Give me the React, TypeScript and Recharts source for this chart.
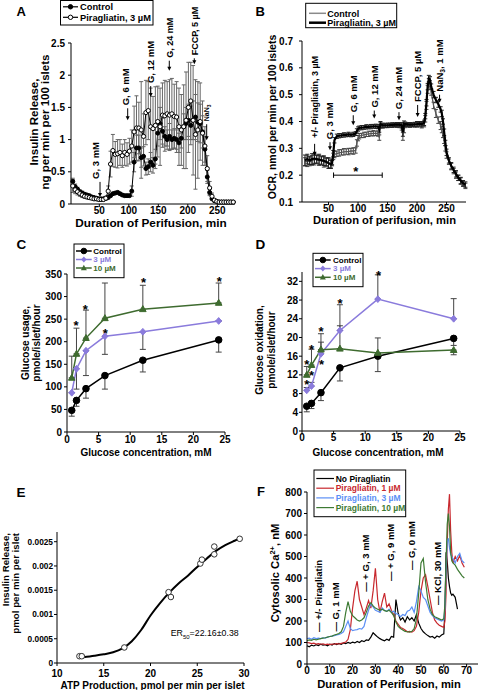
import React from 'react';
import { ComposedChart, Line, XAxis, YAxis, ErrorBar, ReferenceDot, ReferenceLine } from 'recharts';

const FONT = '"Liberation Sans", Arial, Helvetica, sans-serif';

// ---------------- Panel A data ----------------
const A_TIME = [5, 9, 13, 17, 21, 25, 29, 33, 37, 41, 45, 49, 53, 57, 61, 65, 69, 73, 77, 81, 85, 89, 93, 97, 101, 105, 109, 113, 117, 121, 125, 129, 133, 137, 141, 145, 149, 153, 157, 161, 165, 169, 173, 177, 181, 185, 189, 193, 197, 201, 205, 209, 213, 217, 221, 225, 229, 233, 237, 241, 245, 249, 253, 257, 261, 265, 269, 273, 277];
const A_CONTROL = [0.35, 0.27, 0.23, 0.19, 0.17, 0.15, 0.14, 0.13, 0.11, 0.1, 0.09, 0.08, 0.08, 0.08, 0.09, 0.1, 0.13, 0.16, 0.17, 0.18, 0.16, 0.14, 0.13, 0.13, 0.13, 0.2, 0.65, 0.87, 0.87, 0.72, 0.74, 0.55, 0.58, 0.65, 0.6, 0.7, 1.1, 1.25, 1.13, 1.05, 1.0, 1.05, 1.0, 1.02, 1.0, 0.95, 1.02, 1.2, 1.25, 1.3, 1.22, 1.3, 1.35, 1.27, 1.25, 1.12, 0.85, 0.42, 0.18, 0.08, 0.05, 0.04, 0.03, 0.03, 0.03, 0.03, 0.03, 0.03, 0.03];
const A_PIRAG = [0.28, 0.22, 0.19, 0.16, 0.14, 0.12, 0.11, 0.1, 0.09, 0.08, 0.08, 0.07, 0.07, 0.07, 0.09, 0.2, 0.62, 0.83, 0.77, 0.78, 0.8, 0.75, 0.8, 0.77, 0.82, 0.9, 1.12, 1.18, 1.18, 1.15, 1.05, 1.42, 1.45, 1.2, 1.17, 1.22, 1.28, 1.2, 1.38, 1.37, 1.4, 1.38, 1.4, 1.36, 1.35, 1.2, 1.15, 1.2, 1.3, 1.5, 1.6, 1.3, 1.08, 1.15, 1.28, 1.1, 0.9, 0.55, 0.25, 0.12, 0.06, 0.04, 0.03, 0.03, 0.03, 0.03, 0.03, 0.03, 0.03];
const A_CONTROL_ERR = [0.05, 0.04, 0.03, 0.03, 0.03, 0.03, 0.02, 0.02, 0.02, 0.02, 0.02, 0.02, 0.02, 0.02, 0.02, 0.02, 0.02, 0.02, 0.02, 0.02, 0.02, 0.02, 0.02, 0.02, 0.02, 0.08, 0.15, 0.2, 0.2, 0.15, 0.15, 0.1, 0.12, 0.15, 0.12, 0.15, 0.2, 0.25, 0.2, 0.15, 0.15, 0.2, 0.15, 0.15, 0.15, 0.15, 0.15, 0.2, 0.25, 0.25, 0.3, 0.3, 0.35, 0.3, 0.3, 0.25, 0.2, 0.1, 0.05, 0.01, 0.01, 0.01, 0.01, 0.01, 0.01, 0.01, 0.01, 0.01, 0.01];
const A_PIRAG_ERR = [0.1, 0.06, 0.05, 0.04, 0.04, 0.03, 0.03, 0.03, 0.02, 0.02, 0.02, 0.02, 0.02, 0.02, 0.03, 0.08, 0.2, 0.25, 0.2, 0.22, 0.2, 0.18, 0.2, 0.18, 0.2, 0.25, 0.4, 0.5, 0.4, 0.75, 0.35, 0.5, 0.45, 0.6, 0.5, 0.6, 0.55, 0.6, 0.5, 0.55, 0.5, 0.55, 0.55, 0.5, 0.55, 0.6, 0.55, 0.65, 0.75, 0.7, 0.6, 0.85, 0.85, 0.75, 0.6, 0.5, 0.3, 0.2, 0.1, 0.05, 0.02, 0.01, 0.01, 0.01, 0.01, 0.01, 0.01, 0.01, 0.01];
const A_XTICKS = [50, 100, 150, 200, 250];
const A_YTICKS = [0, 0.5, 1, 1.5, 2, 2.5];

// ---------------- Panel B data ----------------
const B_TIME = [10, 14, 18, 22, 26, 30, 34, 38, 42, 46, 50, 54, 56, 58, 60, 64, 68, 72, 76, 80, 84, 88, 92, 96, 98, 100, 102, 106, 110, 114, 118, 122, 126, 130, 134, 136, 138, 142, 146, 150, 154, 158, 162, 166, 170, 174, 176, 178, 180, 184, 188, 192, 196, 200, 204, 208, 212, 214, 216, 218, 220, 222, 224, 228, 232, 236, 240, 242, 244, 246, 248, 250, 254, 258, 262, 266, 270, 274, 278, 282];
const B_PIRAG = [0.255, 0.26, 0.255, 0.26, 0.262, 0.26, 0.258, 0.256, 0.254, 0.25, 0.245, 0.24, 0.245, 0.28, 0.33, 0.345, 0.347, 0.348, 0.35, 0.35, 0.352, 0.35, 0.352, 0.355, 0.365, 0.372, 0.376, 0.377, 0.378, 0.38, 0.38, 0.381, 0.382, 0.382, 0.381, 0.37, 0.39, 0.386, 0.386, 0.386, 0.387, 0.387, 0.388, 0.388, 0.388, 0.386, 0.36, 0.392, 0.39, 0.389, 0.388, 0.388, 0.389, 0.39, 0.392, 0.39, 0.395, 0.42, 0.47, 0.53, 0.56, 0.555, 0.53, 0.5, 0.48, 0.465, 0.445, 0.43, 0.4, 0.36, 0.32, 0.285, 0.255, 0.235, 0.22, 0.205, 0.19, 0.18, 0.17, 0.165];
const B_CONTROL = [0.25, 0.252, 0.25, 0.255, 0.258, 0.258, 0.255, 0.253, 0.25, 0.248, 0.245, 0.242, 0.25, 0.27, 0.277, 0.28, 0.283, 0.285, 0.287, 0.288, 0.288, 0.29, 0.29, 0.292, 0.32, 0.338, 0.345, 0.348, 0.35, 0.352, 0.354, 0.355, 0.356, 0.356, 0.355, 0.34, 0.385, 0.383, 0.384, 0.385, 0.385, 0.386, 0.386, 0.386, 0.385, 0.38, 0.345, 0.37, 0.385, 0.386, 0.386, 0.387, 0.387, 0.388, 0.388, 0.386, 0.39, 0.41, 0.46, 0.52, 0.545, 0.54, 0.51, 0.46, 0.43, 0.405, 0.385, 0.37, 0.35, 0.33, 0.3, 0.275, 0.25, 0.232, 0.215, 0.2, 0.19, 0.178, 0.168, 0.16];
const B_PIRAG_ERR = [0.02, 0.018, 0.015, 0.02, 0.018, 0.015, 0.02, 0.015, 0.018, 0.015, 0.02, 0.015, 0.01, 0.012, 0.01, 0.008, 0.008, 0.007, 0.008, 0.007, 0.008, 0.007, 0.008, 0.007, 0.008, 0.008, 0.007, 0.008, 0.007, 0.008, 0.007, 0.008, 0.007, 0.008, 0.008, 0.01, 0.01, 0.008, 0.007, 0.008, 0.007, 0.008, 0.007, 0.008, 0.008, 0.01, 0.015, 0.01, 0.008, 0.007, 0.008, 0.007, 0.008, 0.01, 0.008, 0.01, 0.01, 0.01, 0.012, 0.012, 0.012, 0.012, 0.01, 0.012, 0.01, 0.012, 0.01, 0.012, 0.01, 0.012, 0.01, 0.012, 0.01, 0.012, 0.01, 0.012, 0.01, 0.012, 0.01, 0.01];
const B_CONTROL_ERR = [0.015, 0.02, 0.015, 0.018, 0.02, 0.015, 0.018, 0.015, 0.02, 0.015, 0.018, 0.015, 0.01, 0.012, 0.012, 0.01, 0.012, 0.01, 0.012, 0.01, 0.012, 0.01, 0.012, 0.01, 0.012, 0.01, 0.01, 0.008, 0.01, 0.008, 0.01, 0.008, 0.01, 0.008, 0.01, 0.01, 0.01, 0.008, 0.007, 0.008, 0.007, 0.008, 0.007, 0.008, 0.008, 0.012, 0.015, 0.012, 0.008, 0.007, 0.008, 0.007, 0.008, 0.008, 0.008, 0.01, 0.01, 0.012, 0.015, 0.015, 0.015, 0.012, 0.012, 0.012, 0.015, 0.012, 0.015, 0.012, 0.01, 0.012, 0.01, 0.012, 0.01, 0.012, 0.01, 0.012, 0.01, 0.012, 0.01, 0.01];
const B_XTICKS = [50, 100, 150, 200, 250];
const B_YTICKS = [0.1, 0.2, 0.3, 0.4, 0.5, 0.6, 0.7];

// ---------------- Panel C / D data ----------------
const GLUCOSE = [0.75, 1.5, 3, 6, 12, 24];
const C_CONTROL = [48, 70, 96, 125, 159, 204];
const C_3UM = [87, 140, 180, 212, 222, 246];
const C_10UM = [120, 173, 208, 252, 272, 286];
const C_CONTROL_ERR_DOWN = [13, 13, 21, 30, 26, 27];
const C_3UM_ERR_DOWN = [0, 45, 55, 40, 39, 0];
const C_10UM_ERR_UP = [48, 57, 62, 78, 53, 44];
const C_XTICKS = [0, 5, 10, 15, 20, 25];
const C_YTICKS = [0, 50, 100, 150, 200, 250, 300, 350];
const C_STARS = [[1.42, 243], [2.9, 279], [6.06, 224], [12.1, 337], [24.1, 340]];

const D_CONTROL = [5.3, 5.9, 8.2, 13.5, 16.0, 19.8];
const D_3UM = [8.7, 9.6, 16.5, 21.5, 28.2, 24.0];
const D_10UM = [12.0, 14.1, 17.4, 17.6, 16.7, 17.3];
const D_CONTROL_ERR = [[1.2, 0], [1.1, 0], [1.7, 0], [2.8, 0], [3.3, 3.9], [1.5, 0]];
const D_3UM_ERR = [[0, 0.6], [0, 0.8], [0, 2.5], [0, 5.5], [0, 5.2], [0, 4.3]];
const D_10UM_ERR = [[0, 1.8], [0, 3.4], [0, 3.4], [0, 4.9], [0, 0], [1.0, 0]];
const D_YTICKS = [0, 4, 8, 12, 16, 20, 24, 28, 32];
const D_STARS = [[0.75, 14.8], [0.75, 10.5], [1.5, 18.0], [1.5, 12.6], [3.0, 22.0], [3.1, 14.8], [6.0, 27.9], [12.1, 33.9]];

// ---------------- Panel E data ----------------
const E_ATP = [12.4, 12.65, 17.2, 21.93, 22.18, 25.33, 25.5, 26.82, 26.82, 29.54];
const E_INSULIN = [0.00014, 0.00014, 0.00032, 0.00146, 0.00136, 0.00205, 0.00213, 0.0024, 0.00224, 0.00256];
const E_FIT_X = [12.8, 14, 15, 16, 17, 18, 19, 20, 21, 22, 23, 24, 25, 26, 27, 28, 29, 29.6];
const E_FIT_Y = [0.00012, 0.00015, 0.00018, 0.00022, 0.0003, 0.00045, 0.00068, 0.00098, 0.00123, 0.00145, 0.00164, 0.0018, 0.00198, 0.00215, 0.00231, 0.00243, 0.00252, 0.00257];
const E_XTICKS = [10, 15, 20, 25, 30];
const E_YTICKS = [0, 0.0005, 0.001, 0.0015, 0.002, 0.0025];

// ---------------- Panel F data ----------------
const F_TIME = [0, 1, 2, 3, 4, 5, 6, 7, 8, 9, 10, 11, 12, 13, 14, 15, 16, 17, 18, 19, 20, 21, 22, 23, 24, 25, 26, 27, 28, 29, 30, 31, 32, 33, 34, 35, 36, 37, 38, 39, 40, 41, 42, 43, 44, 45, 46, 47, 48, 49, 50, 51, 52, 53, 54, 55, 56, 57, 58, 59, 60, 60.5, 61, 61.5, 62, 62.5, 63, 63.5, 64, 65, 66, 67, 68, 69];
const F_NONE = [85, 80, 88, 84, 90, 86, 92, 88, 90, 85, 92, 88, 95, 90, 96, 92, 98, 95, 100, 96, 102, 98, 105, 100, 108, 104, 112, 110, 125, 145, 135, 125, 118, 112, 108, 115, 110, 128, 125, 300, 235, 205, 215, 195, 220, 205, 215, 200, 230, 190, 165, 150, 140, 132, 125, 128, 120, 130, 125, 135, 140, 250, 520, 480, 400, 360, 330, 320, 325, 310, 255, null, null, null];
const F_1UM = [100, 98, 95, 97, 93, 95, 92, 94, 90, 92, 90, 93, 92, 95, 93, 96, 98, 102, 115, 160, 260, 340, 385, 300, 265, 230, 260, 295, 260, 340, 445, 300, 240, 290, 330, 265, 280, 250, 230, 200, 185, 170, 165, 158, 150, 152, 148, 155, 175, 240, 340, 400, 415, 360, 300, 240, 205, 190, 180, 175, 170, 200, 330, 560, 720, 790, 620, 520, 470, 500, 480, 505, 470, 450];
const F_3UM = [118, 120, 115, 122, 118, 120, 118, 122, 120, 125, 128, 130, 132, 135, 138, 142, 150, 175, 200, 165, 155, 158, 160, 165, 162, 175, 215, 250, 280, 265, 250, 245, 240, 260, 250, 245, 255, 240, 245, 235, 230, 220, 230, 225, 245, 250, 265, 240, 290, 360, 340, 310, 300, 270, 240, 225, 215, 210, 205, 200, 205, 260, 420, 570, 585, 540, 510, 500, 490, 470, 500, 515, 480, 470];
const F_10UM = [108, 112, 110, 115, 112, 115, 118, 120, 122, 125, 128, 130, 135, 138, 142, 150, 175, 240, 290, 245, 225, 215, 205, 200, 205, 215, 240, 270, 285, 270, 260, 255, 250, 255, 248, 245, 250, 240, 225, 195, 175, 165, 158, 152, 150, 148, 152, 165, 210, 330, 470, 490, 380, 300, 255, 230, 220, 215, 210, 205, 210, 280, 470, 650, 700, 640, 520, 480, 470, 460, 440, 425, 410, 400];
const F_XTICKS = [0, 10, 20, 30, 40, 50, 60, 70];
const F_YTICKS = [0, 100, 200, 300, 400, 500, 600, 700, 800];

// ---------------- built tables ----------------
const aData = A_TIME.map((t, i) => ({ t, control: A_CONTROL[i], pirag: A_PIRAG[i], controlErr: A_CONTROL_ERR[i], piragErr: A_PIRAG_ERR[i] }));
const bData = B_TIME.map((t, i) => ({ t, control: B_CONTROL[i], pirag: B_PIRAG[i], controlErr: B_CONTROL_ERR[i], piragErr: B_PIRAG_ERR[i] }));
const cData = GLUCOSE.map((g, i) => ({ g, control: C_CONTROL[i], u3: C_3UM[i], u10: C_10UM[i], eControl: [C_CONTROL_ERR_DOWN[i], 0], e3: [C_3UM_ERR_DOWN[i], 0], e10: [0, C_10UM_ERR_UP[i]] }));
const dData = GLUCOSE.map((g, i) => ({ g, control: D_CONTROL[i], u3: D_3UM[i], u10: D_10UM[i], eControl: D_CONTROL_ERR[i], e3: D_3UM_ERR[i], e10: D_10UM_ERR[i] }));
const ePoints = E_ATP.map((x, i) => ({ x, y: E_INSULIN[i] }));
const eFit = E_FIT_X.map((x, i) => ({ x, y: E_FIT_Y[i] }));
const fData = F_TIME.map((t, i) => ({ t, none: F_NONE[i], u1: F_1UM[i], u3: F_3UM[i], u10: F_10UM[i] }));

// ---------------- styles & helpers ----------------
const PURPLE = '#8a7bdc';
const GREEN = '#3e6b2f';
const F_RED = '#c8282e';
const F_BLUE = '#5b8ff5';
const F_GREEN = '#3d7a33';
const AXIS = { stroke: '#000', strokeWidth: 1 };
const tick = (fs: number) => ({ fontSize: fs, fontWeight: 700, fill: '#000', fontFamily: FONT });

const circleDot = (fill: string, r: number, stroke = '#000') => (props: any) => {
  const { cx, cy, index } = props;
  if (cx == null || cy == null || props.value == null) return <g key={`n${index}`} />;
  return <circle key={`c${index}`} cx={cx} cy={cy} r={r} fill={fill} stroke={stroke} strokeWidth={1} />;
};
const diamondDot = (color: string) => (props: any) => {
  const { cx, cy, index } = props;
  return <path key={`d${index}`} d={`M${cx},${cy - 3.4} L${cx + 3},${cy} L${cx},${cy + 3.4} L${cx - 3},${cy} Z`} fill={color} stroke={color} />;
};
const triangleDot = (color: string) => (props: any) => {
  const { cx, cy, index } = props;
  return <path key={`t${index}`} d={`M${cx},${cy - 3.6} L${cx + 3.3},${cy + 2.4} L${cx - 3.3},${cy + 2.4} Z`} fill={color} stroke={color} />;
};

type Note = { x: number; y: number; text: React.ReactNode; len: number; fs: number; dx?: number; gap?: number };
const arrowShape = (n: Note) => (props: any) => {
  const { cx, cy } = props;
  const top = cy - n.len;
  const tx = cx + (n.dx || 0) + n.fs * 0.36;
  const ty = top - (n.gap == null ? 3 : n.gap);
  return (
    <g>
      <line x1={cx} y1={top} x2={cx} y2={cy - 3} stroke="#000" strokeWidth={1} />
      <path d={`M${cx - 2},${cy - 4} L${cx + 2},${cy - 4} L${cx},${cy} Z`} fill="#000" />
      <text x={tx} y={ty} transform={`rotate(-90 ${tx} ${ty})`} fontSize={n.fs} fontWeight={700} fontFamily={FONT} textAnchor="start" fill="#000">{n.text}</text>
    </g>
  );
};
const dashNoteShape = (text: string, fs: number) => (props: any) => {
  const { cx, cy } = props;
  const tx = cx + fs * 0.36;
  return (
    <text x={tx} y={cy} transform={`rotate(-90 ${tx} ${cy})`} fontSize={fs} fontWeight={700} fontFamily={FONT} textAnchor="start" fill="#000">{text}</text>
  );
};
const starShape = (props: any) => (
  <text x={props.cx} y={props.cy + 7.5} textAnchor="middle" fontSize={13} fontWeight={700} fontFamily={FONT} fill="#000">*</text>
);

const nan3 = (suffix: string, fs: number) => (
  <>
    NaN<tspan dy={2} fontSize={fs * 0.7}>3</tspan>
    <tspan dy={-2}>{suffix}</tspan>
  </>
);

const A_NOTES: Note[] = [
  { x: 51.2, y: 0.11, text: 'G, 3 mM', len: 15, fs: 9.5, dx: -4 },
  { x: 98.1, y: 1.3, text: 'G, 6 mM', len: 12, fs: 9.5, dx: -2 },
  { x: 137.1, y: 1.66, text: 'G, 12 mM', len: 11, fs: 9.5 },
  { x: 168.6, y: 2.07, text: 'G, 24 mM', len: 10, fs: 9 },
  { x: 211, y: 2.17, text: 'FCCP, 5 µM', len: 6, fs: 9 },
  { x: 232, y: 0.99, text: nan3('', 7), len: 16, fs: 7 },
];
const B_NOTES: Note[] = [
  { x: 26.4, y: 0.272, text: '+/-  Piragliatin, 3 µM', len: 12, fs: 9, gap: 6 },
  { x: 52.5, y: 0.293, text: 'G, 3 mM', len: 8, fs: 9.5 },
  { x: 91.9, y: 0.386, text: 'G, 6 mM', len: 10, fs: 9.5 },
  { x: 127.5, y: 0.411, text: 'G, 12 mM', len: 8, fs: 9.5 },
  { x: 169.4, y: 0.405, text: 'G, 24 mM', len: 8, fs: 9.5 },
  { x: 201, y: 0.417, text: 'FCCP, 5 µM', len: 12, fs: 9.5 },
  { x: 238.2, y: 0.47, text: nan3(', 1 mM', 9.5), len: 8, fs: 9.5 },
];
const F_NOTES = [
  { x: 5.2, y: 149, text: '— +/- Piragliatin' },
  { x: 12.7, y: 151, text: '— G, 1 mM' },
  { x: 25.5, y: 336, text: '— + G, 3 mM' },
  { x: 36.7, y: 386, text: '— + G, 9 mM' },
  { x: 45.9, y: 437, text: '— G, 0 mM' },
  { x: 57.4, y: 274, text: '— KCl, 30 mM' },
];

const pos = (left: number, top: number): React.CSSProperties => ({ position: 'absolute', left, top });

function PanelA() {
  return (
    <div style={pos(0, 0)}>
      <ComposedChart width={240} height={230} data={aData} margin={{ top: 43, right: 5, bottom: 0, left: 0 }}>
        <XAxis dataKey="t" type="number" domain={[2, 280]} ticks={A_XTICKS} height={26} tickSize={3} tickMargin={0} tick={tick(10)} axisLine={AXIS} tickLine={AXIS} />
        <YAxis type="number" domain={[0, 2.5]} ticks={A_YTICKS} width={71} tickSize={3} tickMargin={3} tick={tick(10)} axisLine={AXIS} tickLine={AXIS} />
        <Line dataKey="control" stroke="#000" strokeWidth={1} dot={circleDot('#000', 2)} isAnimationActive={false}>
          <ErrorBar dataKey="controlErr" width={2} stroke="#666" strokeWidth={1} />
        </Line>
        <Line dataKey="pirag" stroke="#000" strokeWidth={1} dot={circleDot('#fff', 2.1)} isAnimationActive={false}>
          <ErrorBar dataKey="piragErr" width={2} stroke="#666" strokeWidth={1} />
        </Line>
        {A_NOTES.map((n, i) => (
          <ReferenceDot key={i} x={n.x} y={n.y} r={0} ifOverflow="visible" shape={arrowShape(n)} />
        ))}
      </ComposedChart>
    </div>
  );
}

function PanelB() {
  return (
    <div style={pos(239, 0)}>
      <ComposedChart width={240} height={230} data={bData} margin={{ top: 41, right: 13, bottom: 0, left: 0 }}>
        <XAxis dataKey="t" type="number" domain={[5, 283]} ticks={B_XTICKS} height={28} tickSize={3} tickMargin={0} tick={tick(10)} axisLine={AXIS} tickLine={AXIS} />
        <YAxis type="number" domain={[0.1, 0.7]} ticks={B_YTICKS} width={63} tickSize={3} tickMargin={6} tick={tick(10)} axisLine={AXIS} tickLine={AXIS} />
        <Line dataKey="control" stroke="#555" strokeWidth={1.3} dot={false} isAnimationActive={false}>
          <ErrorBar dataKey="controlErr" width={2} stroke="#444" strokeWidth={1} />
        </Line>
        <Line dataKey="pirag" stroke="#000" strokeWidth={2.2} dot={false} isAnimationActive={false}>
          <ErrorBar dataKey="piragErr" width={2} stroke="#222" strokeWidth={1} />
        </Line>
        <ReferenceLine segment={[{ x: 58.5, y: 0.2 }, { x: 141, y: 0.2 }]} stroke="#000" strokeWidth={1} ifOverflow="visible" />
        <ReferenceLine segment={[{ x: 58.5, y: 0.19 }, { x: 58.5, y: 0.21 }]} stroke="#000" strokeWidth={1} ifOverflow="visible" />
        <ReferenceLine segment={[{ x: 141, y: 0.19 }, { x: 141, y: 0.21 }]} stroke="#000" strokeWidth={1} ifOverflow="visible" />
        <ReferenceDot x={96.3} y={0.225} r={0} ifOverflow="visible" shape={starShape} />
        {B_NOTES.map((n, i) => (
          <ReferenceDot key={i} x={n.x} y={n.y} r={0} ifOverflow="visible" shape={arrowShape(n)} />
        ))}
      </ComposedChart>
    </div>
  );
}

function DosePanel(props: { left: number; top: number; data: any[]; domainY: [number, number]; yTicks: number[]; stars: number[][]; marginTop: number; marginRight: number; yWidth: number; xHeight: number; yMargin: number; xMargin: number }) {
  const { left, top, data, domainY, yTicks, stars, marginTop, marginRight, yWidth, xHeight, yMargin, xMargin } = props;
  return (
    <div style={pos(left, top)}>
      <ComposedChart width={240} height={230} data={data} margin={{ top: marginTop, right: marginRight, bottom: 0, left: 0 }}>
        <XAxis dataKey="g" type="number" domain={[0, 25]} ticks={C_XTICKS} height={xHeight} tickSize={3} tickMargin={xMargin} tick={tick(10)} axisLine={AXIS} tickLine={AXIS} />
        <YAxis type="number" domain={domainY} ticks={yTicks} width={yWidth} tickSize={3} tickMargin={yMargin} tick={tick(10)} axisLine={AXIS} tickLine={AXIS} />
        <Line dataKey="control" stroke="#000" strokeWidth={1.5} dot={circleDot('#000', 3.3)} isAnimationActive={false}>
          <ErrorBar dataKey="eControl" width={3} stroke="#444" strokeWidth={1} />
        </Line>
        <Line dataKey="u3" stroke={PURPLE} strokeWidth={1.5} dot={diamondDot(PURPLE)} isAnimationActive={false}>
          <ErrorBar dataKey="e3" width={3} stroke="#444" strokeWidth={1} />
        </Line>
        <Line dataKey="u10" stroke={GREEN} strokeWidth={1.5} dot={triangleDot(GREEN)} isAnimationActive={false}>
          <ErrorBar dataKey="e10" width={3} stroke="#444" strokeWidth={1} />
        </Line>
        {stars.map((s, i) => (
          <ReferenceDot key={i} x={s[0]} y={s[1]} r={0} ifOverflow="visible" shape={starShape} />
        ))}
      </ComposedChart>
    </div>
  );
}

function PanelE() {
  return (
    <div style={pos(0, 455)}>
      <ComposedChart width={250} height={235} margin={{ top: 77, right: 6, bottom: 0, left: 0 }}>
        <XAxis dataKey="x" type="number" domain={[10, 30]} ticks={E_XTICKS} height={27} tickSize={3} tickMargin={4} tick={tick(10)} axisLine={AXIS} tickLine={AXIS} />
        <YAxis type="number" domain={[0, 0.0027]} ticks={E_YTICKS} width={57} tickSize={3} tickMargin={1} tick={tick(8.3)} axisLine={AXIS} tickLine={AXIS} tickFormatter={(v: number) => String(v)} />
        <Line data={eFit} dataKey="y" type="monotone" stroke="#000" strokeWidth={2} dot={false} isAnimationActive={false} />
        <Line data={ePoints} dataKey="y" stroke="none" dot={circleDot('#fff', 2.8, '#333')} isAnimationActive={false} />
      </ComposedChart>
    </div>
  );
}

function PanelF() {
  return (
    <div style={pos(239, 455)}>
      <ComposedChart width={240} height={235} data={fData} margin={{ top: 37, right: 1, bottom: 0, left: 0 }}>
        <XAxis dataKey="t" type="number" domain={[0, 75]} ticks={F_XTICKS} height={26} tickSize={3} tickMargin={0} tick={tick(10)} axisLine={AXIS} tickLine={AXIS} />
        <YAxis type="number" domain={[0, 800]} ticks={F_YTICKS} width={68} tickSize={3} tickMargin={2} tick={tick(10)} axisLine={AXIS} tickLine={AXIS} />
        <Line dataKey="none" stroke="#000" strokeWidth={1.2} dot={false} connectNulls={false} isAnimationActive={false} />
        <Line dataKey="u1" stroke={F_RED} strokeWidth={1.2} dot={false} isAnimationActive={false} />
        <Line dataKey="u3" stroke={F_BLUE} strokeWidth={1.2} dot={false} isAnimationActive={false} />
        <Line dataKey="u10" stroke={F_GREEN} strokeWidth={1.2} dot={false} isAnimationActive={false} />
        {F_NOTES.map((n, i) => (
          <ReferenceDot key={i} x={n.x} y={n.y} r={0} ifOverflow="visible" shape={dashNoteShape(n.text, 9.5)} />
        ))}
      </ComposedChart>
    </div>
  );
}

// ---------------- overlay text (titles, legends) ----------------
const T = (p: { x: number; y: number; fs: number; children: React.ReactNode; anchor?: string; rot?: boolean; weight?: number; fill?: string }) => {
  const tr = p.rot ? `rotate(-90 ${p.x} ${p.y})` : undefined;
  return (
    <text x={p.x} y={p.y} transform={tr} fontSize={p.fs} fontWeight={p.weight == null ? 700 : p.weight} fontFamily={FONT} textAnchor={(p.anchor as any) || 'middle'} fill={p.fill || '#000'}>
      {p.children}
    </text>
  );
};

type LegItem = { label: string; color: string; textColor: string; marker: string; width?: number };
const LegendBox = (p: { x: number; y: number; w: number; h: number; rows: number[]; lineX: [number, number]; textX: number; fs: number; items: LegItem[] }) => (
  <g>
    <rect x={p.x} y={p.y} width={p.w} height={p.h} fill="#fff" stroke="#000" strokeWidth={1} />
    {p.items.map((it, i) => {
      const cy = p.rows[i];
      const mx = (p.lineX[0] + p.lineX[1]) / 2;
      let marker: React.ReactNode = null;
      if (it.marker === 'filled') marker = <circle cx={mx} cy={cy} r={2.2} fill="#000" stroke="#000" />;
      if (it.marker === 'open') marker = <circle cx={mx} cy={cy} r={2.2} fill="#fff" stroke="#000" />;
      if (it.marker === 'bigfilled') marker = <circle cx={mx} cy={cy} r={2.8} fill={it.color} stroke={it.color} />;
      if (it.marker === 'diamond') marker = <path d={`M${mx},${cy - 3} L${mx + 2.7},${cy} L${mx},${cy + 3} L${mx - 2.7},${cy} Z`} fill={it.color} />;
      if (it.marker === 'triangle') marker = <path d={`M${mx},${cy - 3.2} L${mx + 3},${cy + 2.2} L${mx - 3},${cy + 2.2} Z`} fill={it.color} />;
      return (
        <g key={i}>
          <line x1={p.lineX[0]} y1={cy} x2={p.lineX[1]} y2={cy} stroke={it.color} strokeWidth={it.width || 1.2} />
          {marker}
          <text x={p.textX} y={cy + p.fs * 0.36} fontSize={p.fs} fontWeight={700} fontFamily={FONT} fill={it.textColor}>{it.label}</text>
        </g>
      );
    })}
  </g>
);

const LEG_A: LegItem[] = [
  { label: 'Control', color: '#000', textColor: '#000', marker: 'filled' },
  { label: 'Piragliatin, 3 µM', color: '#000', textColor: '#000', marker: 'open' },
];
const LEG_B: LegItem[] = [
  { label: 'Control', color: '#8a8a8a', textColor: '#000', marker: 'none', width: 1.5 },
  { label: 'Piragliatin, 3 µM', color: '#000', textColor: '#000', marker: 'none', width: 2.5 },
];
const LEG_CD: LegItem[] = [
  { label: 'Control', color: '#000', textColor: '#000', marker: 'bigfilled', width: 1.5 },
  { label: '3 µM', color: PURPLE, textColor: PURPLE, marker: 'diamond', width: 1.5 },
  { label: '10 µM', color: GREEN, textColor: GREEN, marker: 'triangle', width: 1.5 },
];
const LEG_F: LegItem[] = [
  { label: 'No Piragliatin', color: '#000', textColor: '#000', marker: 'none' },
  { label: 'Piragliatin, 1 µM', color: F_RED, textColor: F_RED, marker: 'none' },
  { label: 'Piragliatin, 3 µM', color: F_BLUE, textColor: F_BLUE, marker: 'none' },
  { label: 'Piragliatin, 10 µM', color: F_GREEN, textColor: F_GREEN, marker: 'none' },
];

function Overlay() {
  return (
    <svg width={479} height={690} style={{ position: 'absolute', left: 0, top: 0, pointerEvents: 'none' }}>
      {/* panel letters */}
      <T x={16.5} y={16} fs={13} anchor="start">A</T>
      <T x={255.5} y={16} fs={13} anchor="start">B</T>
      <T x={16.5} y={248.5} fs={13.5} anchor="start">C</T>
      <T x={255.5} y={248.5} fs={13.5} anchor="start">D</T>
      <T x={16.5} y={496.5} fs={13.5} anchor="start">E</T>
      <T x={257} y={495.5} fs={13} anchor="start">F</T>

      {/* A titles */}
      <T x={37.5} y={122} fs={11.5} rot>Insulin Release,</T>
      <T x={49.3} y={122} fs={11.5} rot>ng per min per 100 islets</T>
      <T x={151} y={226.5} fs={11.8}>Duration of Perifusion, min</T>

      {/* B titles */}
      <T x={275.5} y={117} fs={10.5} rot>OCR, nmol per min per 100 islets</T>
      <T x={384.5} y={223.5} fs={11.2}>Duration of perifusion, min</T>

      {/* C titles */}
      <T x={28.6} y={343} fs={10} rot>Glucose usage,</T>
      <T x={39.8} y={343} fs={10} rot>pmole/islet/hour</T>
      <T x={146} y={455.5} fs={10}>Glucose concentration, mM</T>

      {/* D titles */}
      <T x={263.3} y={350} fs={10} rot>Glucose oxidation,</T>
      <T x={274.5} y={350} fs={10} rot>pmole/islet/hour</T>
      <T x={378} y={455.5} fs={10}>Glucose concentration, mM</T>

      {/* E titles */}
      <T x={8.5} y={533} fs={9.7} rot anchor="end">Insulin Release,</T>
      <T x={19.2} y={533} fs={9.7} rot anchor="end">pmol per min per islet</T>
      <T x={152.5} y={689} fs={10}>ATP Production, pmol per min per islet</T>
      <text x={170.7} y={636} fontSize={8.8} fontFamily={FONT} fill="#000">
        ER<tspan dy={2.5} fontSize={6}>50</tspan><tspan dy={-2.5}>=22.16±0.38</tspan>
      </text>

      {/* F titles */}
      <text x={279} y={573} transform="rotate(-90 279 573)" fontSize={11.2} fontWeight={700} fontFamily={FONT} textAnchor="middle" fill="#000">
        Cytosolic Ca<tspan dy={-4} fontSize={7.5}>2+</tspan><tspan dy={4}>, nM</tspan>
      </text>
      <T x={389} y={687.5} fs={11.2}>Duration of Perifusion, min</T>

      {/* legends */}
      <LegendBox x={60.5} y={0.5} w={92.5} h={24.5} rows={[6.8, 17.3]} lineX={[63, 78]} textX={80} fs={9.3} items={LEG_A} />
      <LegendBox x={305.7} y={3.3} w={91} h={24.4} rows={[13.3, 22.7]} lineX={[309, 326]} textX={327.3} fs={9} items={LEG_B} />
      <LegendBox x={74} y={244} w={50} h={33.7} rows={[251, 259.5, 268]} lineX={[76, 91.7]} textX={93.3} fs={8} items={LEG_CD} />
      <LegendBox x={313} y={253.3} w={50} h={33.4} rows={[260, 268.6, 277.3]} lineX={[315, 330.7]} textX={333} fs={8} items={LEG_CD} />
      <LegendBox x={314} y={470} w={91.7} h={46.7} rows={[478.5, 488.2, 497.9, 507.6]} lineX={[316.3, 334]} textX={335.7} fs={8.5} items={LEG_F} />
    </svg>
  );
}

export default function App() {
  return (
    <div style={{ position: 'absolute', left: 0, top: 0, width: 479, height: 690, background: '#fff', overflow: 'hidden', fontFamily: FONT }}>
      <PanelA />
      <PanelB />
      <DosePanel left={0} top={225} data={cData} domainY={[0, 350]} yTicks={C_YTICKS} stars={C_STARS} marginTop={49} marginRight={15} yWidth={67} xHeight={23} yMargin={2} xMargin={1} />
      <DosePanel left={239} top={225} data={dData} domainY={[0, 34]} yTicks={D_YTICKS} stars={D_STARS} marginTop={47} marginRight={19} yWidth={63} xHeight={24} yMargin={1} xMargin={0} />
      <PanelE />
      <PanelF />
      <Overlay />
    </div>
  );
}
